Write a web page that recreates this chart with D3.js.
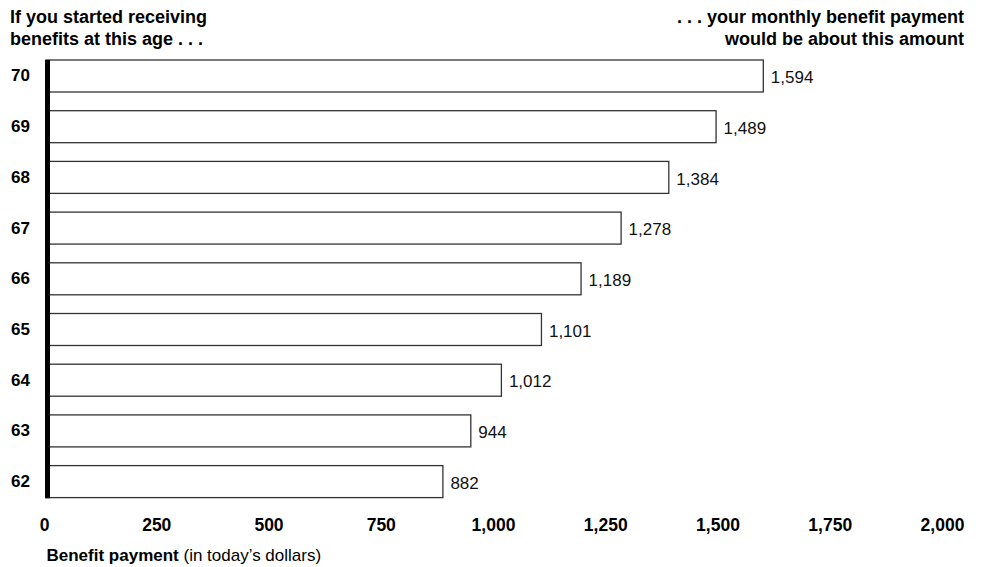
<!DOCTYPE html>
<html>
<head>
<meta charset="utf-8">
<script src="https://cdn.jsdelivr.net/npm/d3@7"></script>
<style>
    body { margin: 0; background: #fff; }
    svg { display: block; font-family: "Liberation Sans", Arial, Helvetica, sans-serif; }
</style>
</head>
<body>
<svg id="vis" width="983" height="567"></svg>
<script>
// chart data
const AGES = [70, 69, 68, 67, 66, 65, 64, 63, 62];
const PAYMENTS = [1594, 1489, 1384, 1278, 1189, 1101, 1012, 944, 882];
const TICKS = [0, 250, 500, 750, 1000, 1250, 1500, 1750, 2000];

const WIDTH = 983, HEIGHT = 567;
const PLOT = {left: 46, right: 946, top: 60, bottom: 497.6};

var svg = d3.select("#vis");

// scales
var xScale = d3.scaleLinear()
    .domain([0, 2000])
    .range([PLOT.left, PLOT.right]);
// tick labels sit a touch left of the bar scale in the original
var xLabelScale = d3.scaleLinear()
    .domain([0, 2000])
    .range([44, 942]);
var yScale = d3.scaleBand()
    .domain(AGES)
    .range([PLOT.top, PLOT.bottom])
    .paddingInner(0.369)
    .paddingOuter(0);

var rows = AGES.map(function(a, i){ return {age: a, value: PAYMENTS[i]}; });

// bars
svg.append("g").selectAll("rect")
    .data(rows)
    .enter()
    .append("rect")
    .attr("x", xScale(0))
    .attr("y", function(d){ return yScale(d.age); })
    .attr("width", function(d){ return xScale(d.value) - xScale(0); })
    .attr("height", yScale.bandwidth())
    .style("fill", "#fff")
    .style("stroke", "#333")
    .style("stroke-width", 1.3);

// value labels
svg.append("g").selectAll("text")
    .data(rows)
    .enter()
    .append("text")
    .attr("x", function(d){ return xScale(d.value) + 7.5; })
    .attr("y", function(d){ return yScale(d.age) + yScale.bandwidth() / 2; })
    .attr("dy", "0.42em")
    .style("font-size", "17px")
    .style("fill", "#111")
    .text(function(d){ return d3.format(",")(d.value); });

// thick vertical baseline
svg.append("line")
    .attr("x1", 47.5).attr("x2", 47.5)
    .attr("y1", PLOT.top).attr("y2", PLOT.bottom + 0.7)
    .style("stroke", "#000")
    .style("stroke-width", 5);

// age labels
var yAxis = d3.axisLeft(yScale).tickSize(0).tickPadding(0);
var gy = svg.append("g")
    .attr("transform", "translate(30, 0)")
    .call(yAxis);
gy.select(".domain").remove();
gy.selectAll("text")
    .style("font-size", "17px")
    .style("font-weight", "bold")
    .style("fill", "#000")
    .attr("font-family", null);

// x tick labels
var xAxis = d3.axisBottom(xLabelScale)
    .tickValues(TICKS)
    .tickSize(0)
    .tickPadding(0)
    .tickFormat(d3.format(","));
var gx = svg.append("g")
    .attr("transform", "translate(0, 518)")
    .call(xAxis);
gx.select(".domain").remove();
gx.selectAll("text")
    .attr("dy", "0.75em")
    .style("font-size", "17.5px")
    .style("font-weight", "bold")
    .style("fill", "#000")
    .attr("font-family", null);

// headers
var left = svg.append("text")
    .attr("x", 10)
    .style("font-size", "18px")
    .style("font-weight", "bold");
left.append("tspan").attr("x", 10).attr("y", 23).text("If you started receiving");
left.append("tspan").attr("x", 10).attr("y", 45).text("benefits at this age . . .");

var right = svg.append("text")
    .style("font-size", "18px")
    .style("font-weight", "bold")
    .style("text-anchor", "end");
right.append("tspan").attr("x", 964).attr("y", 23).text(". . . your monthly benefit payment");
right.append("tspan").attr("x", 964).attr("y", 45).text("would be about this amount");

// axis title
var title = svg.append("text")
    .attr("x", 46.5)
    .attr("y", 561)
    .style("font-size", "17px");
title.append("tspan").style("font-weight", "bold").text("Benefit payment");
title.append("tspan").text(" (in today\u2019s dollars)");
</script>
</body>
</html>
